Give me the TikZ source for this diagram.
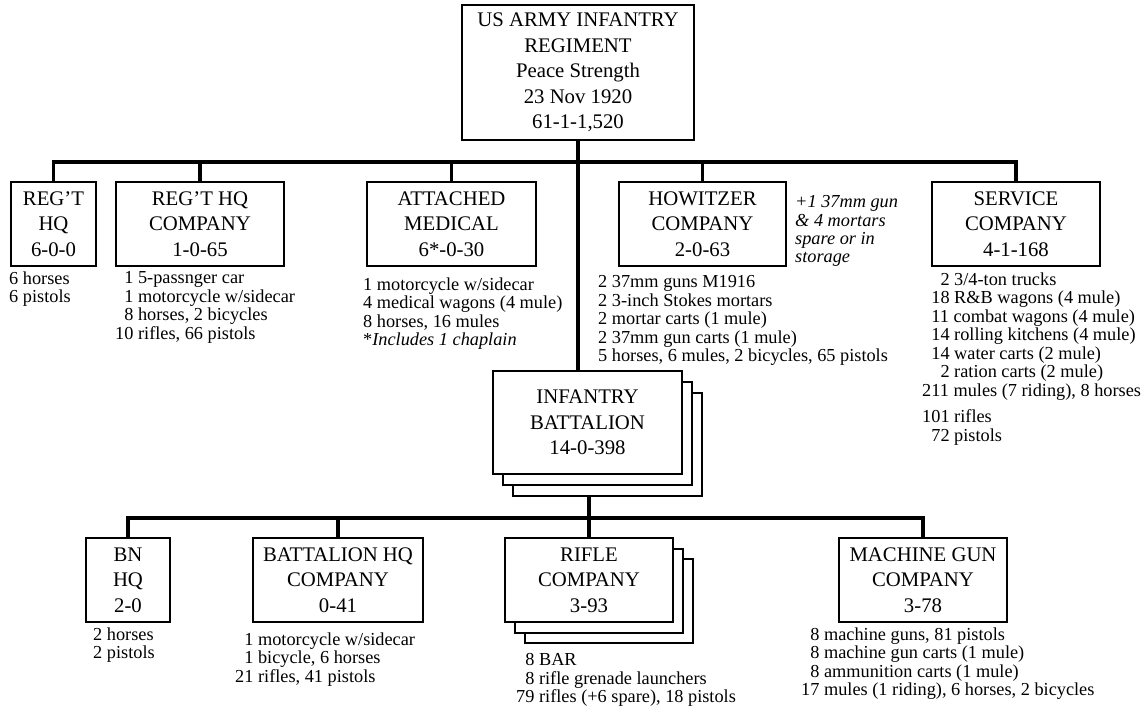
\documentclass[tikz,border=0pt]{standalone}
\usepackage{fontspec}
\setmainfont{Liberation Serif}
\newcommand{\pd}{\phantom{0}}
\tikzset{
  box/.style={draw, line width=2.6pt, fill=white, inner sep=0pt, align=center,
    font=\fontsize{20.75}{25.5}\selectfont},
  unitbox/.style={box, minimum height=84pt},
  bnbox/.style={box, minimum width=189pt, minimum height=103pt},
  link/.style={line width=3.4pt},
  list/.style={anchor=north west, inner sep=0pt, align=left,
    font=\fontsize{18.3}{18.5}\selectfont},
  note/.style={list, font=\fontsize{18.3}{18.3}\selectfont\itshape}
}
\begin{document}
\begin{tikzpicture}[x=1pt,y=-1pt]
    \useasboundingbox (0,0) rectangle (1148,708);
    \coordinate (bar1) at (0,162);
    \coordinate (bar2) at (0,518);
    % Regimiento
    \node[box, minimum width=232pt, minimum height=135pt] (reg) at (578,72.5)
        {US ARMY INFANTRY\\REGIMENT\\Peace Strength\\23 Nov 1920\\61-1-1,520};
    \node[unitbox, minimum width=85pt] (rhq) at (53.5,224) {REG’T\\HQ\\6-0-0};
    \node[unitbox, minimum width=168pt] (rhqco) at (200,224) {REG’T HQ\\COMPANY\\1-0-65};
    \node[unitbox, minimum width=169pt] (med) at (451.5,224) {ATTACHED\\MEDICAL\\6*-0-30};
    \node[unitbox, minimum width=167pt] (how) at (702.5,224) {HOWITZER\\COMPANY\\2-0-63};
    \node[unitbox, minimum width=168pt] (svc) at (1016,224) {SERVICE\\COMPANY\\4-1-168};
    \draw[link] (rhq.north) -- (rhq.north |- bar1) -- (svc.north |- bar1) -- (svc.north);
    \draw[link] (rhqco.north) -- (rhqco.north |- bar1);
    \draw[link] (med.north) -- (med.north |- bar1);
    \draw[link] (how.north) -- (how.north |- bar1);
    \node[list] (rhqlist) at (9,271.5) {6 horses\\6 pistols};
    \node[list] (rhqcolist) at (115,271.5) {\pd1 5-passnger car\\\pd1 motorcycle w/sidecar\\\pd8 horses, 2 bicycles\\10 rifles, 66 pistols};
    \node[list] (medlist) at (363,277.5) {1 motorcycle w/sidecar\\4 medical wagons (4 mule)\\8 horses, 16 mules\\*\textit{Includes 1 chaplain}};
    \node[list] (howlist) at (598,275.5) {2 37mm guns M1916\\2 3-inch Stokes mortars\\2 mortar carts (1 mule)\\2 37mm gun carts (1 mule)\\5 horses, 6 mules, 2 bicycles, 65 pistols};
    \node[note] (hownote) at (795,195.5) {+1 37mm gun\\\& 4 mortars\\spare or in\\storage};
    \node[list] (svclist) at (922,272.5) {\pd\pd2 3/4-ton trucks\\\pd18 R\&B wagons (4 mule)\\\pd11 combat wagons (4 mule)\\\pd14 rolling kitchens (4 mule)\\\pd14 water carts (2 mule)\\\pd\pd2 ration carts (2 mule)\\211 mules (7 riding), 8 horses\\[8pt]101 rifles\\\pd72 pistols};
    % Batallon
    \node[bnbox] (bn3) at (607.5,444.5) {};
    \node[bnbox] (bn2) at (597.5,433.5) {};
    \node[bnbox] (bn) at (587.5,422.5) {INFANTRY\\BATTALION\\14-0-398};
    \draw[link] (reg.south) -- (reg.south |- bn.north);
    \node[unitbox, minimum width=84pt] (bnhq) at (128,580) {BN\\HQ\\2-0};
    \node[unitbox, minimum width=170pt] (bhqco) at (338,580) {BATTALION HQ\\COMPANY\\0-41};
    \node[unitbox, minimum width=168pt] (rc3) at (609,601) {};
    \node[unitbox, minimum width=168pt] (rc2) at (599,591) {};
    \node[unitbox, minimum width=168pt] (rc) at (589,580) {RIFLE\\COMPANY\\3-93};
    \node[unitbox, minimum width=168pt] (mg) at (923,580) {MACHINE GUN\\COMPANY\\3-78};
    \draw[link] (bnhq.north) -- (bnhq.north |- bar2) -- (mg.north |- bar2) -- (mg.north);
    \draw[link] (bhqco.north) -- (bhqco.north |- bar2);
    \draw[link] (rc.north) -- (rc.north |- bn3.south);
    \node[list] (bnhqlist) at (93,627.5) {2 horses\\2 pistols};
    \node[list] (bhqcolist) at (235,632.5) {\pd1 motorcycle w/sidecar\\\pd1 bicycle, 6 horses\\21 rifles, 41 pistols};
    \node[list] (rclist) at (516,653.5) {\pd8 BAR\\\pd8 rifle grenade launchers\\79 rifles (+6 spare), 18 pistols};
    \node[list] (mglist) at (801,627.5) {\pd8 machine guns, 81 pistols\\\pd8 machine gun carts (1 mule)\\\pd8 ammunition carts (1 mule)\\17 mules (1 riding), 6 horses, 2 bicycles};
\end{tikzpicture}
\end{document}
